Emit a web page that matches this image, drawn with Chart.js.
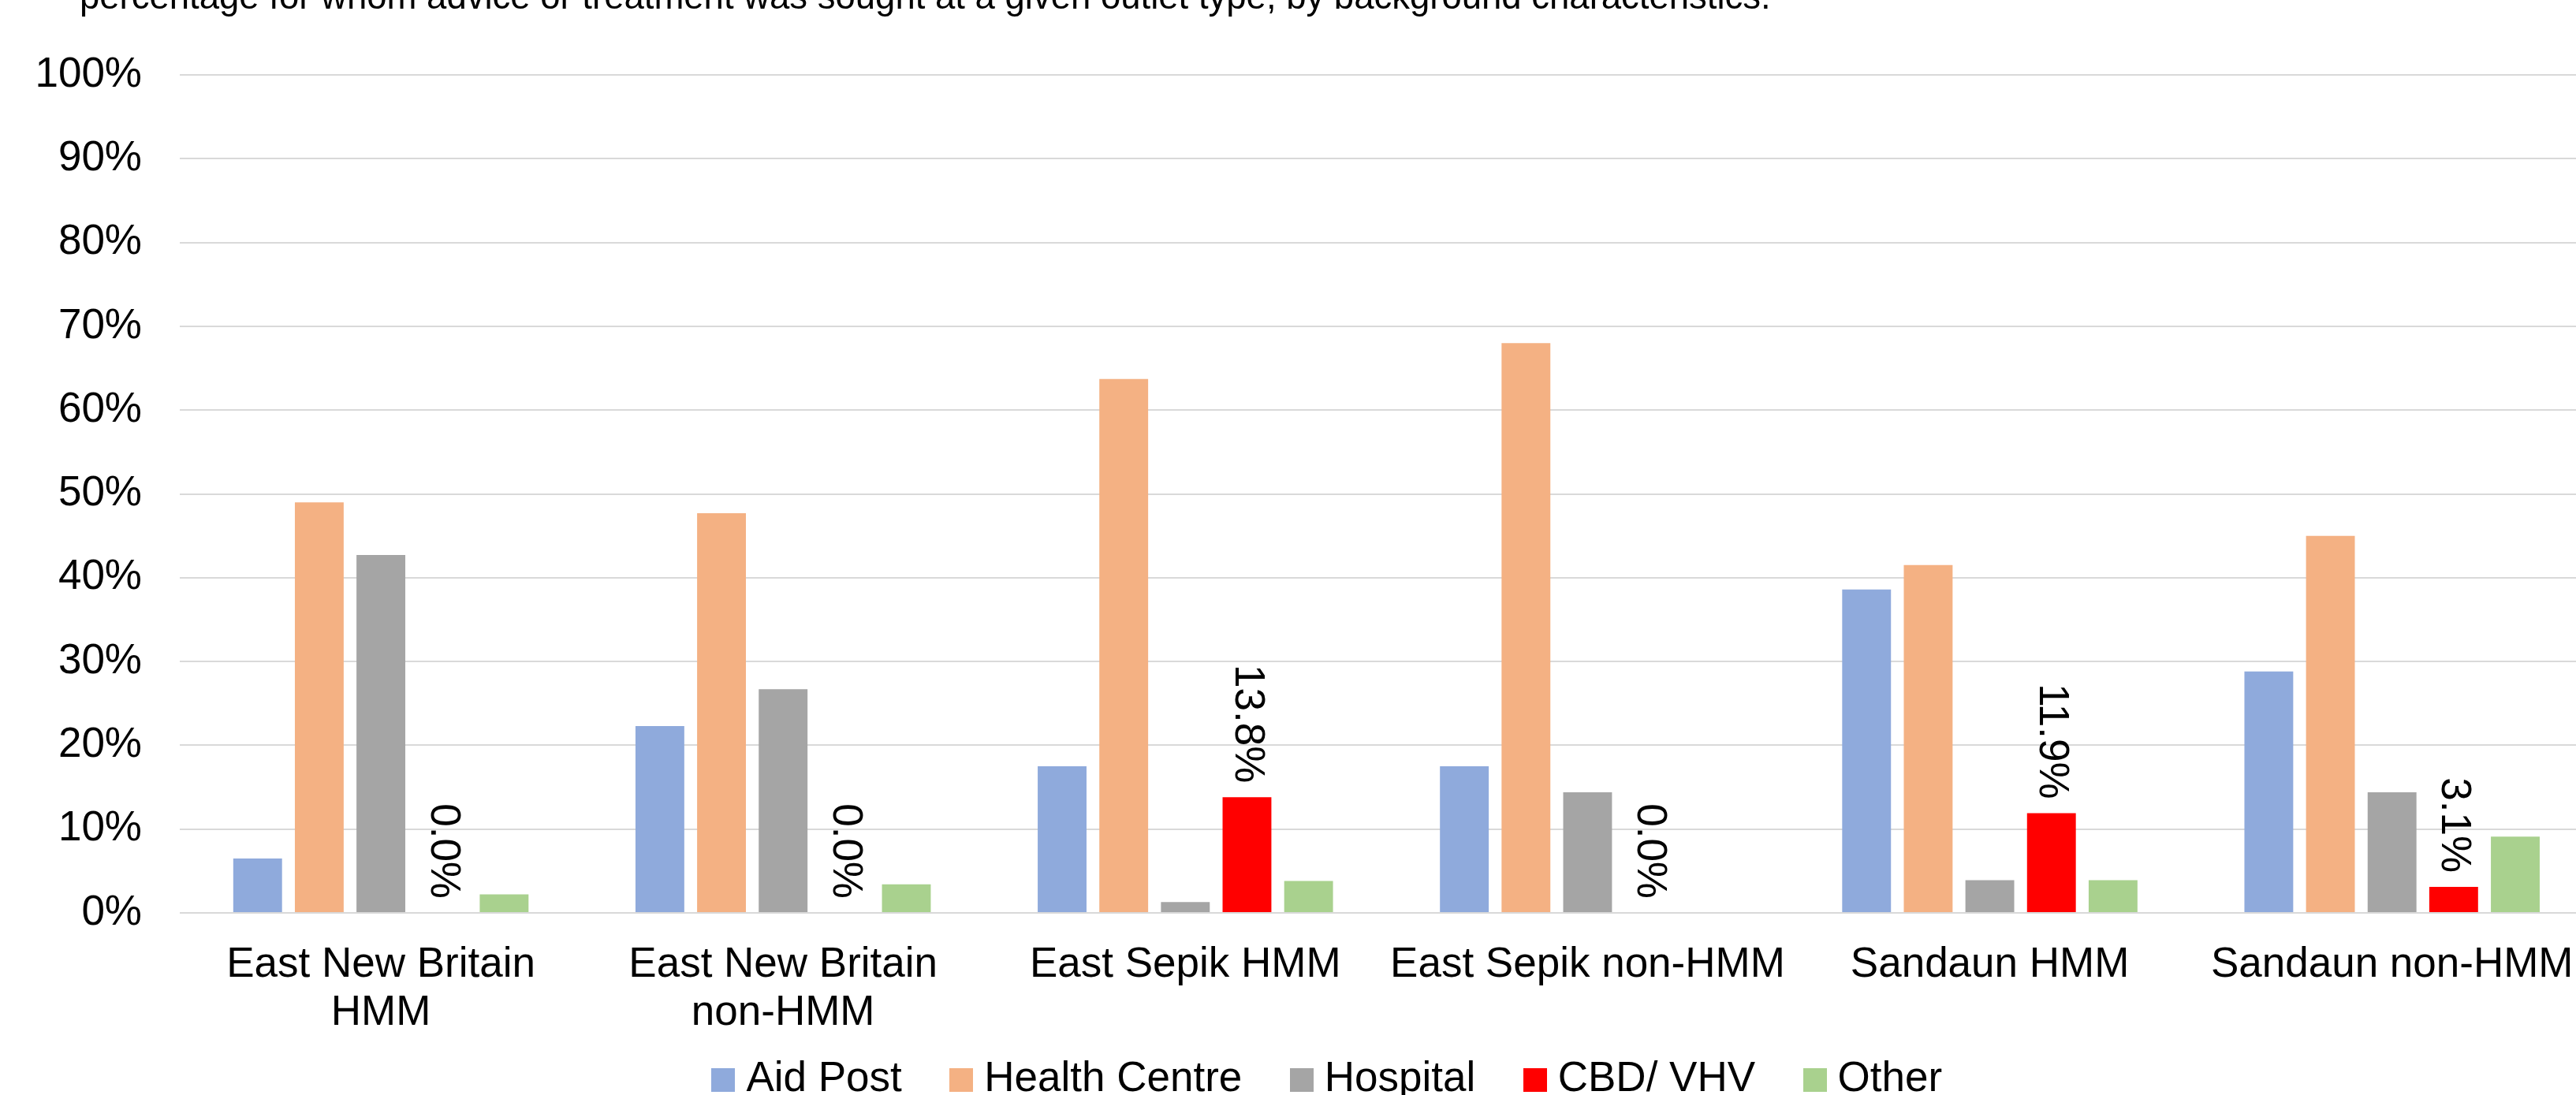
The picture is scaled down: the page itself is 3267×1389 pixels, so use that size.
<!DOCTYPE html>
<html>
<head>
<meta charset="utf-8">
<script src="https://cdn.jsdelivr.net/npm/chart.js@4/dist/chart.umd.min.js"></script>
<style>
  html, body { margin: 0; padding: 0; background: #ffffff; overflow: hidden; }
  #wrap { position: absolute; left: 0; top: 0; width: 3300px; height: 1406px; }
</style>
</head>
<body>
<div id="wrap"><canvas id="chart" width="3300" height="1406"></canvas></div>
<script>
// Survey groups (province x programme status)
const categories = [
  ['East New Britain', 'HMM'],
  ['East New Britain', 'non-HMM'],
  'East Sepik HMM',
  'East Sepik non-HMM',
  'Sandaun HMM',
  'Sandaun non-HMM'
];

// Percentage seeking advice or treatment at each outlet type
const aidPost       = [6.5, 22.3, 17.5, 17.5, 38.6, 28.8];
const healthCentre  = [49.0, 47.7, 63.7, 68.0, 41.5, 45.0];
const hospital      = [42.7, 26.7, 1.3, 14.4, 3.9, 14.4];
const cbdVhv        = [0.0, 0.0, 13.8, 0.0, 11.9, 3.1];
const other         = [2.2, 3.4, 3.8, 0.0, 3.9, 9.1];

const seriesNames = ['Aid Post', 'Health Centre', 'Hospital', 'CBD/ VHV', 'Other'];
const yTicks = [0, 10, 20, 30, 40, 50, 60, 70, 80, 90, 100];

const caption = 'percentage for whom advice or treatment was sought at a given outlet type, by background characteristics.';

const FONT = "Arial, 'Liberation Sans', sans-serif";
const colors = ['#8FAADC', '#F4B183', '#A5A5A5', '#FF0000', '#A9D18E'];
const seriesData = [aidPost, healthCentre, hospital, cbdVhv, other];

// Square legend swatches (30 x 30) drawn as point-style images
const swatches = colors.map(c => {
  const cv = document.createElement('canvas');
  cv.width = 30;
  cv.height = 30;
  const g = cv.getContext('2d');
  g.fillStyle = c;
  g.fillRect(0, 0, 30, 30);
  return cv;
});

// Legend sits slightly right of centre; the two-line category labels
// run down behind the legend's top padding, so let them draw in full.
const layoutTweaks = {
  id: 'layoutTweaks',
  afterLayout(chart) {
    chart.legend.left += 84;
    chart.scales.x.bottom = chart.height;
  }
};

// Caption line above the plot
const captionPlugin = {
  id: 'caption',
  afterDraw(chart) {
    const ctx = chart.ctx;
    ctx.save();
    ctx.font = '45.5px ' + FONT;
    ctx.fillStyle = '#000000';
    ctx.textAlign = 'left';
    ctx.textBaseline = 'alphabetic';
    ctx.fillText(caption, 101, 11);
    ctx.restore();
  }
};

// Vertical value labels above the CBD/ VHV bars
const cbdLabelPlugin = {
  id: 'cbdLabels',
  afterDatasetsDraw(chart) {
    const ctx = chart.ctx;
    const meta = chart.getDatasetMeta(3);
    const values = chart.data.datasets[3].data;
    ctx.save();
    ctx.font = '53px ' + FONT;
    ctx.fillStyle = '#000000';
    meta.data.forEach((bar, i) => {
      const text = values[i].toFixed(1) + '%';
      ctx.save();
      ctx.translate(bar.x, bar.y - 18);
      ctx.rotate(Math.PI / 2);
      ctx.textAlign = 'right';
      ctx.textBaseline = 'middle';
      ctx.fillText(text, 0, 0);
      ctx.restore();
    });
    ctx.restore();
  }
};

new Chart(document.getElementById('chart'), {
  type: 'bar',
  data: {
    labels: categories,
    datasets: seriesNames.map((name, k) => ({
      label: name,
      data: seriesData[k],
      backgroundColor: colors[k],
      borderWidth: 0,
      categoryPercentage: 0.766,
      barPercentage: 0.792
    }))
  },
  options: {
    responsive: false,
    animation: false,
    layout: { padding: { top: 95, right: 6, left: 0, bottom: 0 } },
    plugins: {
      title: { display: false },
      tooltip: { enabled: false },
      legend: {
        display: true,
        position: 'bottom',
        labels: {
          usePointStyle: true,
          pointStyleWidth: 5,
          boxHeight: 30,
          padding: 73,
          color: '#000000',
          font: { family: FONT, size: 53 },
          generateLabels(chart) {
            const items = Chart.defaults.plugins.legend.labels.generateLabels(chart);
            items.forEach(it => {
              it.pointStyle = swatches[it.datasetIndex];
              it.lineWidth = 0;
            });
            return items;
          }
        }
      }
    },
    scales: {
      x: {
        grid: { display: false, drawTicks: false },
        border: { display: false },
        ticks: {
          autoSkip: false,
          maxRotation: 0,
          minRotation: 0,
          padding: 36,
          color: '#000000',
          font: { family: FONT, size: 53, lineHeight: 1.15 }
        },
        afterFit(scale) { scale.height = 112; }
      },
      y: {
        min: 0,
        max: 100,
        afterBuildTicks(scale) { scale.ticks = yTicks.map(v => ({ value: v })); },
        grid: { color: '#D9D9D9', lineWidth: 2, drawTicks: false },
        border: { display: false },
        ticks: {
          padding: 48,
          color: '#000000',
          font: { family: FONT, size: 53 },
          callback: v => v + '%'
        },
        afterFit(scale) { scale.width = 228; }
      }
    }
  },
  plugins: [layoutTweaks, captionPlugin, cbdLabelPlugin]
});
</script>
</body>
</html>
